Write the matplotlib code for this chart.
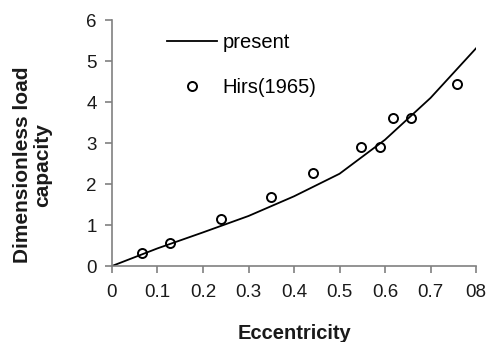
import matplotlib
matplotlib.use('Agg')
import matplotlib.pyplot as plt

plt.rcParams['font.family'] = ['Liberation Sans', 'DejaVu Sans']

# present model curve
ecc_present = [0.0, 0.1, 0.2, 0.3, 0.4, 0.5, 0.6, 0.7, 0.8]
load_present = [0.0, 0.43, 0.82, 1.22, 1.7, 2.25, 3.08, 4.1, 5.31]

# Hirs (1965) measurements
ecc_hirs = [0.065, 0.127, 0.24, 0.349, 0.441, 0.547, 0.588, 0.617, 0.657, 0.759]
load_hirs = [0.32, 0.57, 1.15, 1.68, 2.28, 2.91, 2.91, 3.60, 3.60, 4.44]

xticks = [0, 0.1, 0.2, 0.3, 0.4, 0.5, 0.6, 0.7, 0.8]
xtick_labels = ['0', '0.1', '0.2', '0.3', '0.4', '0.5', '0.6', '0.7', '08']
yticks = [0, 1, 2, 3, 4, 5, 6]

fig = plt.figure(figsize=(4.92, 3.42), dpi=100)
ax = fig.add_axes([0.2276, 0.2222, 0.740, 0.7193])

ax.plot(ecc_present, load_present, color='black', lw=1.3, label='present')
ax.plot(ecc_hirs, load_hirs, 'o', mfc='none', mec='black', mew=1.4, ms=6.5,
        label='Hirs(1965)')

ax.set_xlim(0, 0.8)
ax.set_ylim(0, 6)
ax.set_xticks(xticks)
ax.set_xticklabels(xtick_labels)
ax.set_yticks(yticks)

for s in ['top', 'right']:
    ax.spines[s].set_visible(False)
for s in ['left', 'bottom']:
    ax.spines[s].set_color('#808080')
    ax.spines[s].set_linewidth(1.2)
ax.tick_params(direction='out', length=5, width=1.2, color='#808080',
               labelsize=13.5, labelcolor='#1a1a1a', pad=6)
ax.tick_params(axis='x', pad=8)

ax.set_xlabel('Eccentricity', fontsize=14.5, fontweight='bold', color='#1a1a1a')
ax.set_ylabel('Dimensionless load\ncapacity', fontsize=15, fontweight='bold',
              color='#1a1a1a', linespacing=1.05)
ax.xaxis.set_label_coords(0.5, -0.235)
ax.yaxis.set_label_coords(-0.165, 0.41)

ax.legend(loc='upper left', bbox_to_anchor=(0.151, 0.947), frameon=False,
          fontsize=14.5, handlelength=2.5, handletextpad=0.25, labelspacing=1.3,
          borderpad=0, borderaxespad=0)

fig.savefig('out.png', dpi=100)
